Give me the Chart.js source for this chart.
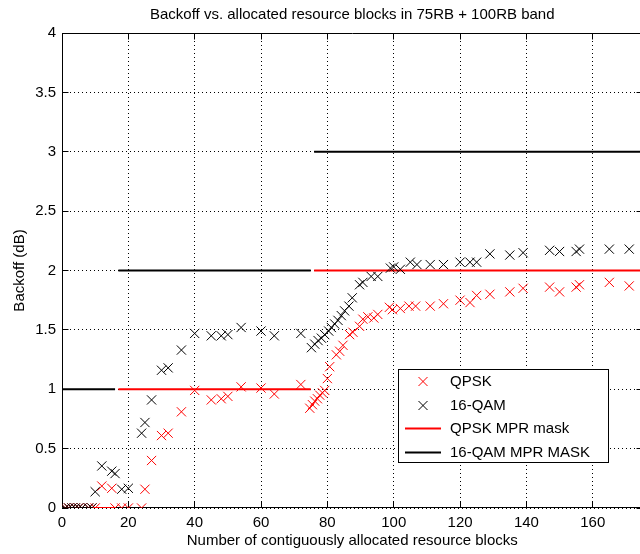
<!DOCTYPE html>
<html>
<head>
<meta charset="utf-8">
<title>Backoff</title>
<script src="https://cdn.jsdelivr.net/npm/chart.js@4.4.1/dist/chart.umd.min.js"></script>
<style>
    html, body { margin: 0; padding: 0; background: #fff; overflow: hidden; }
    #wrap { width: 650px; height: 554px; }
</style>
</head>
<body>
<div id="wrap"><canvas id="myChart" width="650" height="554"></canvas></div>
<script>
// texts
const titleText = 'Backoff vs. allocated resource blocks in 75RB + 100RB band';
const xLabel = 'Number of contiguously allocated resource blocks';
const yLabel = 'Backoff (dB)';
const seriesNames = ['QPSK', '16-QAM', 'QPSK MPR mask', '16-QAM MPR MASK'];

// ticks
const xTicks = [0, 20, 40, 60, 80, 100, 120, 140, 160];
const yTicks = [0, 0.5, 1, 1.5, 2, 2.5, 3, 3.5, 4];

// QPSK measured backoff
const qpskRb = [1, 2, 3, 4, 5, 6, 8, 9, 10, 12, 15, 16, 18, 20, 24, 25, 27, 30, 32, 36, 40, 45, 48, 50, 54, 60, 64, 72,
    74.7, 75.5, 76.2, 77, 77.7, 78.5, 79.2, 80, 80.7, 82.7, 83.7, 84.7, 86.7, 87.7, 89.7, 90.7, 92.2, 94, 95.2, 98.7, 99.6,
    102, 104.6, 106.6, 111, 115, 120, 123, 125, 129, 135, 139, 147, 150, 155, 156, 165, 171];
const qpskBackoff = [0, 0, 0, 0, 0, 0, 0, 0, 0, 0.185, 0.166, 0, 0, 0, 0, 0.158, 0.40, 0.61, 0.63, 0.81, 0.99, 0.91, 0.92, 0.94, 1.02, 1.01, 0.96, 1.04,
    0.84, 0.87, 0.90, 0.92, 0.95, 0.97, 0.99, 1.09, 1.19, 1.29, 1.32, 1.37, 1.46, 1.48, 1.53, 1.59, 1.61, 1.60, 1.63, 1.69, 1.67,
    1.68, 1.70, 1.70, 1.70, 1.72, 1.75, 1.73, 1.79, 1.80, 1.82, 1.85, 1.86, 1.82, 1.86, 1.88, 1.90, 1.87];

// 16-QAM measured backoff
const qamRb = [1, 2, 3, 4, 5, 6, 8, 9, 10, 12, 15, 16, 18, 20, 24, 25, 27, 30, 32, 36, 40, 45, 48, 50, 54, 60, 64, 72,
    75.2, 76.2, 77.2, 78.2, 79.2, 80.4, 81.2, 82.2, 83.2, 84.2, 85.2, 86.5, 87.5, 89.7, 90.7, 93.2, 95.2, 99, 100,
    102, 105, 107, 111, 115, 120, 123, 125, 129, 135, 139, 147, 150, 155, 156, 165, 171];
const qamBackoff = [0, 0, 0, 0, 0, 0, 0, 0, 0.137, 0.354, 0.31, 0.29, 0.158, 0.166, 0.63, 0.72, 0.91, 1.16, 1.18, 1.33, 1.47, 1.45, 1.45, 1.46, 1.52, 1.49, 1.45, 1.47,
    1.35, 1.38, 1.41, 1.43, 1.46, 1.49, 1.52, 1.55, 1.58, 1.62, 1.66, 1.70, 1.77, 1.88, 1.90, 1.95, 1.95, 2.02, 2.03,
    2.01, 2.07, 2.05, 2.05, 2.05, 2.07, 2.07, 2.07, 2.14, 2.13, 2.15, 2.17, 2.16, 2.16, 2.18, 2.18, 2.18];

// MPR masks, one step per segment
const qpskMaskStart = [9, 17, 76];
const qamMaskStart = [0, 17, 76];
const maskEnd = [16, 75, 175];
const qpskMask = [0, 1, 2];
const qamMask = [1, 2, 3];

const fontFamily = "'Liberation Sans', Arial, Helvetica, sans-serif";

function toPoints(xs, ys) {
    return xs.map((x, i) => ({x: x, y: ys[i]}));
}

// a null between segments breaks the line
function maskPoints(starts, ends, values) {
    let pts = [];
    starts.forEach((s, i) => {
        pts.push({x: s, y: values[i]}, {x: ends[i], y: values[i]});
        if (i < starts.length - 1) {
            pts.push({x: ends[i], y: null});
        }
    });
    return pts;
}

// box round the axes + inward tick marks, like matlab
let frame = {
    id: 'frame',
    beforeDatasetsDraw(chart) {
        let ctx = chart.ctx;
        let a = chart.chartArea;
        let sx = chart.scales.x;
        let sy = chart.scales.y;
        let L = Math.round(a.left) + 0.5, R = Math.round(a.right) - 0.5;
        let T = Math.round(a.top) + 0.5, B = Math.round(a.bottom) - 0.5;

        ctx.save();
        ctx.strokeStyle = '#000';
        ctx.lineWidth = 1;
        ctx.setLineDash([]);
        ctx.beginPath();
        ctx.rect(L, T, R - L, B - T);
        sx.ticks.forEach(t => {
            let px = Math.floor(sx.getPixelForValue(t.value)) + 0.5;
            ctx.moveTo(px, B); ctx.lineTo(px, B - 6);
            ctx.moveTo(px, T); ctx.lineTo(px, T + 6);
        });
        sy.ticks.forEach(t => {
            let py = Math.floor(sy.getPixelForValue(t.value)) + 0.5;
            ctx.moveTo(L, py); ctx.lineTo(L + 6, py);
            ctx.moveTo(R, py); ctx.lineTo(R - 6, py);
        });
        ctx.stroke();
        ctx.restore();
    }
};

// legend box inside the plot
let legendBox = {
    id: 'legendBox',
    afterDraw(chart) {
        let ctx = chart.ctx;
        let lx = 398, ly = 369, lw = 210, lh = 93;

        ctx.save();
        ctx.fillStyle = '#fff';
        ctx.fillRect(lx, ly, lw, lh);
        ctx.strokeStyle = '#000';
        ctx.lineWidth = 1;
        ctx.strokeRect(lx + 0.5, ly + 0.5, lw, lh);

        ctx.font = '15px ' + fontFamily;
        ctx.textBaseline = 'middle';
        ctx.textAlign = 'left';

        chart.data.datasets.forEach((ds, i) => {
            let y = Math.round(ly + 12 + i * 23.7) + 0.5;
            ctx.strokeStyle = ds.borderColor;
            ctx.beginPath();
            if (ds.showLine) {
                ctx.lineWidth = ds.borderWidth;
                ctx.moveTo(405, y);
                ctx.lineTo(441, y);
            } else {
                ctx.lineWidth = 1;
                ctx.moveTo(423 - 4.5, y - 4.5); ctx.lineTo(423 + 4.5, y + 4.5);
                ctx.moveTo(423 + 4.5, y - 4.5); ctx.lineTo(423 - 4.5, y + 4.5);
            }
            ctx.stroke();
            ctx.fillStyle = '#000';
            ctx.fillText(ds.label, 450, y);
        });
        ctx.restore();
    }
};

let ctx = document.getElementById('myChart');

let myChart = new Chart(ctx, {
    type: 'scatter',
    data: {
        datasets: [{
            label: seriesNames[0],
            data: toPoints(qpskRb, qpskBackoff),
            showLine: false,
            pointStyle: 'crossRot',
            pointRadius: 6.5,
            borderColor: '#ff0000',
            backgroundColor: '#ff0000',
            borderWidth: 1,
            order: 1
        }, {
            label: seriesNames[1],
            data: toPoints(qamRb, qamBackoff),
            showLine: false,
            pointStyle: 'crossRot',
            pointRadius: 6.5,
            borderColor: '#000000',
            backgroundColor: '#000000',
            borderWidth: 1,
            order: 0
        }, {
            label: seriesNames[2],
            data: maskPoints(qpskMaskStart, maskEnd, qpskMask),
            showLine: true,
            spanGaps: false,
            pointRadius: 0,
            borderColor: '#ff0000',
            borderWidth: 2,
            order: 3
        }, {
            label: seriesNames[3],
            data: maskPoints(qamMaskStart, maskEnd, qamMask),
            showLine: true,
            spanGaps: false,
            pointRadius: 0,
            borderColor: '#000000',
            borderWidth: 2,
            order: 2
        }]
    },
    options: {
        responsive: false,
        animation: false,
        devicePixelRatio: 1,
        events: [],
        layout: { padding: { left: 0, right: 3, top: 0, bottom: 0 } },
        plugins: {
            legend: { display: false },
            tooltip: { enabled: false }
        },
        scales: {
            x: {
                type: 'linear',
                position: 'bottom',
                min: 0,
                max: 175,
                afterBuildTicks: axis => { axis.ticks = xTicks.map(v => ({value: v})); },
                afterFit: axis => { axis.height = 46; },
                ticks: {
                    autoSkip: false,
                    maxRotation: 0,
                    padding: 6,
                    color: '#000',
                    font: { family: fontFamily, size: 15 }
                },
                grid: { color: '#000', lineWidth: 1, drawTicks: false, borderDash: [1, 3] },
                border: { display: false, dash: [1, 3] },
                title: {
                    display: true,
                    text: xLabel,
                    color: '#000',
                    font: { family: fontFamily, size: 15 },
                    padding: { top: 0, bottom: 4 }
                }
            },
            xTop: {
                type: 'linear',
                position: 'top',
                min: 0,
                max: 175,
                afterFit: axis => { axis.height = 33; },
                ticks: { display: false },
                grid: { display: false, drawTicks: false },
                border: { display: false },
                title: {
                    display: true,
                    text: titleText,
                    color: '#000',
                    font: { family: fontFamily, size: 15 },
                    padding: { top: 6, bottom: 0 }
                }
            },
            y: {
                type: 'linear',
                position: 'left',
                min: 0,
                max: 4,
                afterBuildTicks: axis => { axis.ticks = yTicks.map(v => ({value: v})); },
                afterFit: axis => { axis.width = 62; },
                ticks: {
                    padding: 6,
                    color: '#000',
                    font: { family: fontFamily, size: 15 },
                    callback: v => String(v)
                },
                grid: { color: '#000', lineWidth: 1, drawTicks: false, borderDash: [1, 3] },
                border: { display: false, dash: [1, 3] },
                title: {
                    display: true,
                    text: yLabel,
                    color: '#000',
                    font: { family: fontFamily, size: 15 },
                    padding: { top: 11, bottom: 0 }
                }
            }
        }
    },
    plugins: [frame, legendBox]
});
</script>
</body>
</html>
